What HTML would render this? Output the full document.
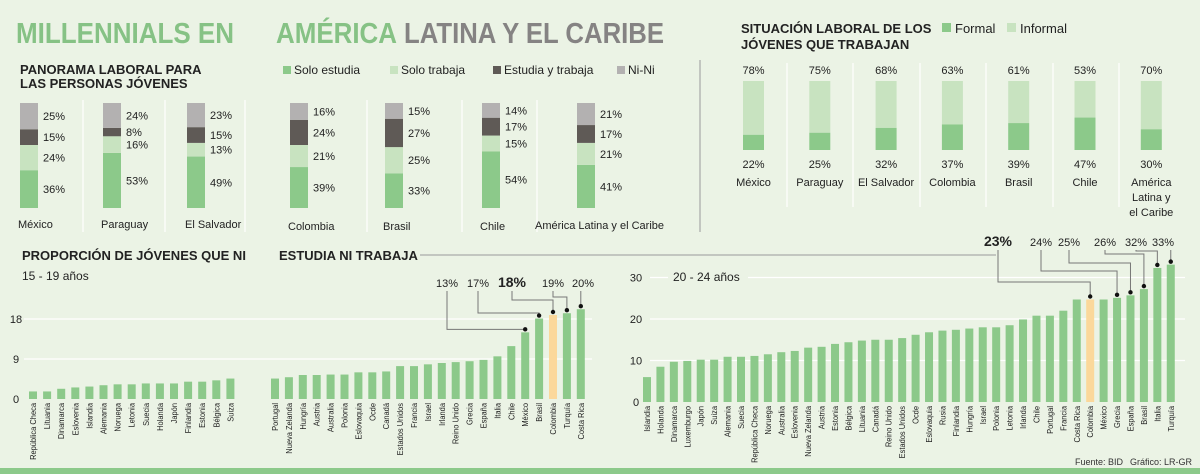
<!DOCTYPE html>
<html><head><meta charset="utf-8"><style>
html,body{margin:0;padding:0;background:#ebf3e5;}
svg{display:block;font-family:"Liberation Sans Narrow","Liberation Sans",sans-serif;}
</style></head><body>
<svg id="root" width="1200" height="474" viewBox="0 0 1200 474">
<rect x="0" y="0" width="1200" height="474" fill="#ebf3e5"/>
<g font-family="Liberation Sans" font-weight="bold" font-size="29">
<text x="16" y="43" fill="#86c285" textLength="218" lengthAdjust="spacingAndGlyphs">MILLENNIALS EN</text>
<text x="276" y="43" fill="#86c285" textLength="121" lengthAdjust="spacingAndGlyphs">AMÉRICA</text>
<text x="404" y="43" fill="#858383" textLength="260" lengthAdjust="spacingAndGlyphs">LATINA Y EL CARIBE</text>
</g>
<g id="panorama"></g>
<g id="situacion"></g>
<g id="ninis"></g>
<line x1="700" y1="60" x2="700" y2="232" stroke="#9a9a9a" stroke-width="1"/>
<text x="1075" y="465" font-size="9" fill="#333">Fuente: BID</text>
<text x="1130" y="465" font-size="9" fill="#333">Gráfico: LR-GR</text>
<rect x="0" y="468" width="1200" height="6" fill="#8cc98a"/>
</svg>
<script>
// ---------- Panorama laboral data ----------
const panCountries = ["México","Paraguay","El Salvador","Colombia","Brasil","Chile","América Latina y el Caribe"];
const panSoloEstudia = [36,53,49,39,33,54,41];
const panSoloTrabaja = [24,16,13,21,25,15,21];
const panEstudiaTrabaja = [15,8,15,24,27,17,17];
const panNiNi = [25,24,23,16,15,14,21];
// ---------- Situación laboral data ----------
const sitCountries = ["México","Paraguay","El Salvador","Colombia","Brasil","Chile","América Latina y el Caribe"];
const sitFormal = [22,25,32,37,39,47,30];
const sitInformal = [78,75,68,63,61,53,70];
// ---------- 15-19 data ----------
const young1Countries = ["República Checa","Lituania","Dinamarca","Eslovenia","Islandia","Alemania","Noruega","Letonia","Suecia","Holanda","Japón","Finlandia","Estonia","Bélgica","Suiza"];
const young1Values = [1.7,1.7,2.3,2.6,2.8,3.1,3.3,3.3,3.5,3.5,3.5,3.9,3.9,4.2,4.6];
const young2Countries = ["Portugal","Nueva Zelanda","Hungría","Austria","Australia","Polonia","Eslovaquia","Ocde","Canadá","Estados Unidos","Francia","Israel","Irlanda","Reino Unido","Grecia","España","Italia","Chile","México","Brasil","Colombia","Turquía","Costa Rica"];
const young2Values = [4.6,4.9,5.4,5.4,5.5,5.5,6.0,6.0,6.2,7.4,7.4,7.8,8.1,8.3,8.5,8.8,9.6,11.9,15.0,18.1,18.9,19.3,20.2];
const youngTicks = [0,9,18];
const youngNoteCountries = ["México","Brasil","Colombia","Turquía","Costa Rica"];
const youngNoteLabels = ["13%","17%","18%","19%","20%"];
// ---------- 20-24 data ----------
const oldCountries = ["Islandia","Holanda","Dinamarca","Luxemburgo","Japón","Suiza","Alemania","Suecia","República Checa","Noruega","Australia","Eslovenia","Nueva Zelanda","Austria","Estonia","Bélgica","Lituania","Canadá","Reino Unido","Estados Unidos","Ocde","Eslovaquia","Rusia","Finlandia","Hungría","Israel","Polonia","Letonia","Irlanda","Chile","Portugal","Francia","Costa Rica","Colombia","México","Grecia","España","Brasil","Italia","Turquía"];
const oldValues = [6.0,8.5,9.7,9.9,10.2,10.2,10.9,10.9,11.1,11.5,12.0,12.3,13.1,13.3,14.0,14.4,14.8,15.0,15.0,15.4,16.2,16.8,17.2,17.4,17.7,18.0,18.0,18.5,19.9,20.8,20.8,22.0,24.7,24.7,24.7,25.1,25.7,27.2,32.3,33.1];
const oldTicks = [0,10,20,30];
const oldNoteCountries = ["Colombia","Grecia","España","Brasil","Italia","Turquía"];
const oldNoteLabels = ["23%","24%","25%","26%","32%","33%"];

const NS="http://www.w3.org/2000/svg";
function mk(parent,tag,attrs,txt){const e=document.createElementNS(NS,tag);for(const k in attrs)e.setAttribute(k,attrs[k]);if(txt!==undefined)e.textContent=txt;parent.appendChild(e);return e;}
const C_EST="#8cc98a",C_TRAB="#c8e3c0",C_ET="#5f5a56",C_NI="#b3b1b1",C_HI="#fbd89b";

// ===== Panorama =====
(function(){
  const g=document.getElementById('panorama');
  let t=mk(g,'text',{x:20,y:74,'font-size':13,'font-weight':'bold',fill:'#222'},'PANORAMA LABORAL PARA');
  
  t=mk(g,'text',{x:20,y:88,'font-size':13,'font-weight':'bold',fill:'#222'},'LAS PERSONAS JÓVENES');
  
  const leg=[["Solo estudia",C_EST,283],["Solo trabaja",C_TRAB,390],["Estudia y trabaja",C_ET,493],["Ni-Ni",C_NI,617]];
  leg.forEach(l=>{
    const r=mk(g,'rect',{x:l[2],y:66,width:8,height:8,fill:l[1]});
    
    const tx=mk(g,'text',{x:l[2]+11,y:74,'font-size':12,fill:'#222'},l[0]);
    
  });
  const slotX=[20,103,187,290,385,482,577];
  [83,165,245,367,462,537].forEach(x=>{
    const s=mk(g,'line',{x1:x,y1:100,x2:x,y2:232,stroke:'#ffffff','stroke-width':1.2});
    
  });
  const top=103,bot=208,H=bot-top;
  panCountries.forEach((c,i)=>{
    const segs=[[panSoloEstudia[i],C_EST],[panSoloTrabaja[i],C_TRAB],[panEstudiaTrabaja[i],C_ET],[panNiNi[i],C_NI]];
    const tot=segs.reduce((a,s)=>a+s[0],0);
    let y=bot;
    segs.forEach(s=>{
      const h=s[0]/tot*H;
      const r=mk(g,'rect',{x:slotX[i],y:y-h,width:18,height:h,fill:s[1]});
      
      const tx=mk(g,'text',{x:slotX[i]+23,y:y-h/2+4,'font-size':11,fill:'#222'},s[0]+'%');
      
      y-=h;
    });
    const lx=i===6?slotX[i]-42:slotX[i]-2;
    const cl=mk(g,'text',{x:lx,y:i<3?228:(i===6?229:230),'font-size':11,fill:'#222'},c);
    
  });
})();

// ===== Situación laboral =====
(function(){
  const g=document.getElementById('situacion');
  let t=mk(g,'text',{x:741,y:33,'font-size':13,'font-weight':'bold',fill:'#222'},'SITUACIÓN LABORAL DE LOS');
  
  t=mk(g,'text',{x:741,y:49,'font-size':13,'font-weight':'bold',fill:'#222'},'JÓVENES QUE TRABAJAN');
  
  [["Formal",C_EST,942],["Informal",C_TRAB,1007]].forEach(l=>{
    const r=mk(g,'rect',{x:l[2],y:23,width:9,height:9,fill:l[1]});
    
    const tx=mk(g,'text',{x:l[2]+13,y:33,'font-size':13,fill:'#222'},l[0]);
    
  });
  [787,853,920,986,1053,1119].forEach(x=>{
    const s=mk(g,'line',{x1:x,y1:63,x2:x,y2:207,stroke:'#ffffff','stroke-width':1.2});
    
  });
  const top=81,bot=150,H=bot-top;
  sitCountries.forEach((c,i)=>{
    const x=743+i*66.3,cx=x+10.5;
    const tot=sitFormal[i]+sitInformal[i];
    const hf=sitFormal[i]/tot*H;
    let r=mk(g,'rect',{x:x,y:top,width:21,height:H-hf,fill:C_TRAB});
    
    r=mk(g,'rect',{x:x,y:bot-hf,width:21,height:hf,fill:C_EST});
    
    let tx=mk(g,'text',{x:cx,y:74,'font-size':11,fill:'#222','text-anchor':'middle'},sitInformal[i]+'%');
    
    tx=mk(g,'text',{x:cx,y:168,'font-size':11,fill:'#222','text-anchor':'middle'},sitFormal[i]+'%');
    
    const lines=i===6?["América","Latina y","el Caribe"]:[c];
    lines.forEach((ln,j)=>{
      const cl=mk(g,'text',{x:cx,y:186+j*15,'font-size':11,fill:'#222','text-anchor':'middle'},ln);
      
    });
  });
})();

// ===== NiNi charts =====
(function(){
  const g=document.getElementById('ninis');
  let t=mk(g,'text',{x:22,y:260,'font-size':13,'font-weight':'bold',fill:'#222'},'PROPORCIÓN DE JÓVENES QUE NI');
  
  t=mk(g,'text',{x:279,y:260,'font-size':13,'font-weight':'bold',fill:'#222'},'ESTUDIA NI TRABAJA');
  
  let ln=mk(g,'line',{x1:420,y1:255,x2:996,y2:255,stroke:'#9a9a9a','stroke-width':1});
  
  t=mk(g,'text',{x:22,y:280,'font-size':12,fill:'#222'},'15 - 19 años');
  

  // --- 15-19 ---
  const y0=399,ppu=40/9;
  const yA=v=>y0-v*ppu;
  youngTicks.forEach(v=>{
    if(v>0){const gl=mk(g,'line',{x1:24,y1:yA(v),x2:592,y2:yA(v),stroke:'#ffffff','stroke-width':1.2});
      }
    const tl=mk(g,'text',{x:16,y:yA(v)+4,'font-size':11,fill:'#222','text-anchor':'middle'},String(v));
    
  });
  const young1X=i=>33+i*14.1;
  const young2X=i=>275+i*13.9;
  function bars(names,vals,xf,yf,bw,name0){
    names.forEach((c,i)=>{
      const v=vals[i],x=xf(i);
      const r=mk(g,'rect',{x:x-bw/2,y:yf(v),width:bw,height:yf(0)-yf(v),fill:c==="Colombia"?C_HI:C_EST});
      
      const tl=mk(g,'text',{x:0,y:0,'font-size':8.5,fill:'#222','text-anchor':'end',transform:`translate(${x+3},${yf(0)+4}) rotate(-90) scale(0.88,1)`},c);
      
    });
  }
  bars(young1Countries,young1Values,young1X,yA,8,'young-15-19');
  bars(young2Countries,young2Values,young2X,yA,8,'young-15-19');
  function notes(noteC,noteL,names,vals,xf,yf,labelX,labelY,elbowY,boldIdx){
    noteC.forEach((c,k)=>{
      const i=names.indexOf(c);if(i<0)return;
      const bx=xf(i),by=yf(vals[i])-3;
      const lx=labelX[k];
      const ey=Math.min(elbowY[k],by);
      const isLast=k===noteC.length-1;
      const pts=isLast?`${bx},${labelY+4} ${bx},${by}`:`${lx},${labelY+4} ${lx},${ey} ${bx},${ey} ${bx},${by}`;
      const pl=mk(g,'polyline',{points:pts,fill:'none',stroke:'#777','stroke-width':1});
      
      const d=mk(g,'circle',{cx:bx,cy:by,r:2.2,fill:'#111'});
      
      const tx=mk(g,'text',{x:lx,y:labelY,'font-size':k===boldIdx?14:11,'font-weight':k===boldIdx?'bold':'normal',fill:'#222','text-anchor':'middle'},noteL[k]);
      
    });
  }
  notes(youngNoteCountries,youngNoteLabels,young2Countries,young2Values,young2X,yA,[447,478,512,553,583],287,[337,313,300,297,0],2);

  // --- 20-24 ---
  const z0=402,zppu=41.5/10;
  const yB=v=>z0-v*zppu;
  oldTicks.forEach(v=>{
    if(v>0){const gl=mk(g,'line',{x1:650,y1:yB(v),x2:1185,y2:yB(v),stroke:'#ffffff','stroke-width':1.2});
      }
    const tl=mk(g,'text',{x:636,y:yB(v)+4,'font-size':11,fill:'#222','text-anchor':'middle'},String(v));
    
  });
  const bg=mk(g,'rect',{x:668,y:268,width:80,height:16,fill:'#ebf3e5'});
  
  t=mk(g,'text',{x:673,y:281,'font-size':12,fill:'#222'},'20 - 24 años');
  
  const oldX=i=>647+i*13.43;
  bars(oldCountries,oldValues,oldX,yB,8,'young-20-24');
  notes(oldNoteCountries,oldNoteLabels,oldCountries,oldValues,oldX,yB,[998,1041,1069,1105,1136,1163],246,[282,271,263,254,251,0],0);
})();
</script>
</body></html>
